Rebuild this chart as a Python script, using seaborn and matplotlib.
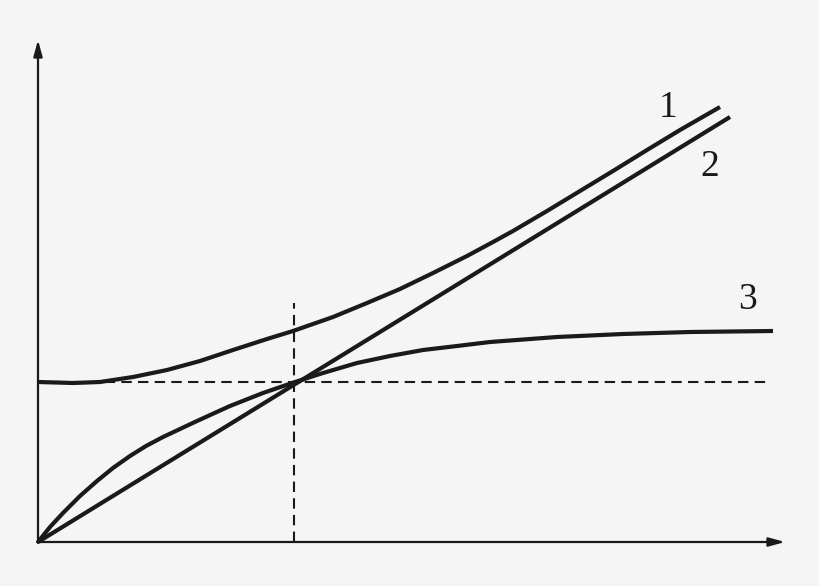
import matplotlib
matplotlib.use("Agg")
import matplotlib.pyplot as plt
import seaborn as sns
import pandas as pd

# Data (pixel-like units, origin at axes crossing)
curve1_x = [0, 35, 62, 95, 129, 162, 195, 229, 255, 295, 329, 362, 395, 429,
            455, 475, 509, 542, 575, 609, 642, 682]
curve1_y = [160, 159, 160, 165, 172, 181, 192, 203, 211, 225, 239, 253, 269, 286,
            300, 311, 331, 351, 371, 392, 412, 435]
curve2_x = [0, 692]
curve2_y = [0, 425]
curve3_x = [0, 12, 25, 42, 59, 75, 92, 108, 125, 159, 192, 225, 257, 285, 319,
            352, 385, 419, 452, 519, 585, 652, 735]
curve3_y = [0, 15, 29, 46, 61, 74, 86, 96, 105, 121, 136, 149, 160, 169, 179,
            186, 192, 196, 200, 205, 208, 210, 211]
labels = ["1", "2", "3"]
label_x = [630, 672, 710]
label_y = [434, 375, 242]
cross_x = 256
cross_y = 160
vline_top = 239
hline_end = 729
x_arrow_end = 747
y_arrow_end = 502

sns.set_theme(style="white")
BG = "#f5f5f5"
INK = "#1c1a19"
plt.rcParams["font.family"] = ["Liberation Serif", "DejaVu Serif"]

fig = plt.figure(figsize=(8.2, 5.86), dpi=100, facecolor=BG)
ax = fig.add_axes([0, 0, 1, 1])
ax.set_facecolor(BG)
ax.set_xlim(-38, 782)
ax.set_ylim(-44, 542)

# dashed guides
ax.plot([cross_x, cross_x], [0, vline_top], ls=(0, (5, 3)), lw=1.5, color=INK)
ax.plot([0, hline_end], [cross_y, cross_y], ls=(0, (5, 3)), lw=1.5, color=INK)

frames = [
    pd.DataFrame({"x": curve1_x, "y": curve1_y, "c": "1"}),
    pd.DataFrame({"x": curve2_x, "y": curve2_y, "c": "2"}),
    pd.DataFrame({"x": curve3_x, "y": curve3_y, "c": "3"}),
]
for df in frames:
    sns.lineplot(data=df, x="x", y="y", ax=ax, sort=False, estimator=None,
                 color=INK, lw=3.0, solid_capstyle="butt", solid_joinstyle="round",
                 legend=False)
ax.set_xlim(-38, 782)
ax.set_ylim(-44, 542)
ax.axis("off")

# axes with arrows
ax.annotate("", xy=(x_arrow_end, 0), xytext=(-1, 0),
            arrowprops=dict(arrowstyle="-|>,head_length=0.8,head_width=0.22",
                            lw=1.6, color=INK, shrinkA=0, shrinkB=0))
ax.annotate("", xy=(0, y_arrow_end), xytext=(0, -1),
            arrowprops=dict(arrowstyle="-|>,head_length=0.8,head_width=0.22",
                            lw=1.6, color=INK, shrinkA=0, shrinkB=0))

for t, lx, ly in zip(labels, label_x, label_y):
    ax.text(lx, ly, t, fontsize=27, color=INK, ha="center", va="center")

fig.savefig("out.png", dpi=100, facecolor=BG)
